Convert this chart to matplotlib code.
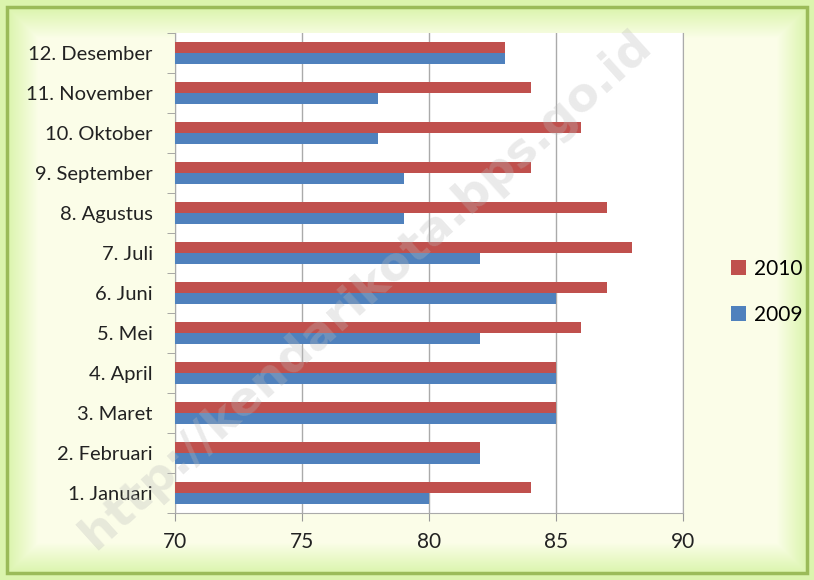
import numpy as np
import matplotlib.pyplot as plt
from matplotlib.patches import Rectangle

months = ["1. Januari", "2. Februari", "3. Maret", "4. April", "5. Mei", "6. Juni",
          "7. Juli", "8. Agustus", "9. September", "10. Oktober", "11. November", "12. Desember"]
val_2009 = [80, 82, 85, 85, 82, 85, 82, 79, 79, 78, 78, 83]
val_2010 = [84, 82, 85, 85, 86, 87, 88, 87, 84, 86, 84, 83]
x_ticks = [70, 75, 80, 85, 90]

red = "#C0504D"
blue = "#4F81BD"
plt.rcParams['font.family'] = ['Lato', 'DejaVu Sans']

fig = plt.figure(figsize=(8.14, 5.8), dpi=100)

# background frame with soft green bevel
bg = fig.add_axes([0, 0, 1, 1])
h, w = 580, 814
yy, xx = np.mgrid[0:h, 0:w]
d = np.minimum.reduce([xx - 8, w - 8 - xx, yy - 8, h - 8 - yy]).astype(float)
t = np.clip(d / 30.0, 0, 1)
inner = np.array([0.985, 0.995, 0.91])
edge = np.array([0.86, 0.96, 0.68])
img = edge + (inner - edge) * t[..., None]
bg.imshow(img, extent=[0, w, h, 0], aspect='auto')
bg.add_patch(Rectangle((7, 7), w - 14, h - 14, fill=False, ec="#9bbb59", lw=2.5))
bg.set_xlim(0, w)
bg.set_ylim(h, 0)
bg.axis('off')

ax = fig.add_axes([175 / w, 1 - 513 / h, (683 - 175) / w, (513 - 33) / h])
ax.set_facecolor("white")
y = np.arange(len(months))
bh = 0.28
ax.barh(y - bh / 2, val_2009, height=bh, color=blue, label="2009", zorder=3)
ax.barh(y + bh / 2, val_2010, height=bh, color=red, label="2010", zorder=3)

ax.set_xlim(70, 90)
ax.set_ylim(-0.5, len(months) - 0.5)
ax.set_xticks(x_ticks)
ax.set_xticklabels([str(v) for v in x_ticks], fontsize=15, color="#222222")
ax.set_yticks(y)
ax.set_yticklabels(months, fontsize=14.5, color="#222222")
ax.set_yticks(np.arange(-0.5, len(months), 1), minor=True)
ax.tick_params(axis='y', which='major', length=0, pad=16)
ax.tick_params(axis='y', which='minor', length=6, color="#999999")
ax.tick_params(axis='x', length=6, color="#999999", pad=8)
ax.grid(axis='x', color="#aaaaaa", lw=1, zorder=0)
for s in ['left', 'bottom', 'right']:
    ax.spines[s].set_color("#aaaaaa")
ax.spines['top'].set_visible(False)

handles, labels = ax.get_legend_handles_labels()
leg = fig.legend(handles[::-1], labels[::-1], loc='center left',
                 bbox_to_anchor=(731 / w, 1 - 292 / h), frameon=False,
                 fontsize=15, handlelength=0.7, handleheight=0.7,
                 labelspacing=1.25, handletextpad=0.4, borderpad=0,
                 borderaxespad=0)

fig.text(0.45, 0.5, "http://kendarikota.bps.go.id", rotation=42, fontsize=34,
         fontweight='bold', color="#bbbbbb", alpha=0.3, ha='center', va='center',
         family='DejaVu Sans', zorder=10)

fig.savefig("out.png", dpi=100)
